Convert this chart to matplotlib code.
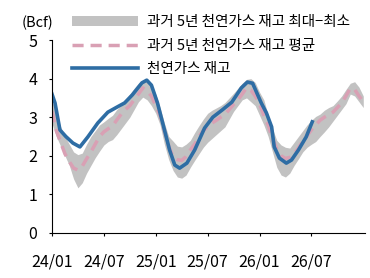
import numpy as np
import matplotlib
matplotlib.use('Agg')
from matplotlib import pyplot as plt

plt.rcParams['font.family'] = ['Noto Sans CJK KR', 'DejaVu Sans']

# months since 2024/01, half-month steps
bandMonths = np.arange(0, 36.01, 0.5)
bandLow = [2.85, 2.5, 2.25, 2.0, 1.75, 1.4, 1.17, 1.3, 1.55, 1.75, 1.95, 2.12, 2.28, 2.37,
           2.42, 2.55, 2.7, 2.85, 3.0, 3.2, 3.4, 3.52, 3.45, 3.3, 3.1, 2.8,
           2.3, 1.9, 1.62, 1.45, 1.42, 1.5, 1.7, 1.88, 2.05, 2.22, 2.35, 2.45,
           2.55, 2.65, 2.75, 2.95, 3.15, 3.3, 3.45, 3.5, 3.4, 3.3, 3.05,
           2.8, 2.5, 2.1, 1.7, 1.5, 1.45, 1.55, 1.75, 1.92, 2.1, 2.22, 2.3,
           2.37, 2.5, 2.62, 2.75, 2.9, 3.05, 3.2, 3.35, 3.6, 3.55, 3.4, 3.25]
bandHigh = [3.45, 3.1, 2.75, 2.5, 2.3, 2.1, 2.03, 2.07, 2.3, 2.5, 2.65, 2.8, 2.88, 2.97,
            3.05, 3.2, 3.3, 3.45, 3.6, 3.75, 3.88, 3.96, 3.93, 3.83, 3.6, 3.25,
            2.85, 2.5, 2.38, 2.25, 2.23, 2.3, 2.4, 2.6, 2.78, 2.95, 3.1, 3.18,
            3.24, 3.3, 3.38, 3.5, 3.62, 3.75, 3.88, 3.98, 4.0, 3.9, 3.65,
            3.45, 3.05, 2.7, 2.4, 2.28, 2.22, 2.2, 2.35, 2.5, 2.65, 2.8, 2.92,
            3.02, 3.08, 3.18, 3.25, 3.3, 3.42, 3.55, 3.72, 3.88, 3.92, 3.78, 3.55]
avg5y = [3.15, 2.65, 2.35, 2.05, 1.85, 1.68, 1.63, 1.73, 1.92, 2.1, 2.3, 2.5, 2.62, 2.7,
         2.77, 2.93, 3.08, 3.2, 3.3, 3.45, 3.6, 3.76, 3.68, 3.55, 3.3, 3.05,
         2.65, 2.25, 1.97, 1.9, 1.88, 1.98, 2.15, 2.3, 2.5, 2.65, 2.75, 2.85,
         2.92, 3.0, 3.07, 3.2, 3.33, 3.45, 3.6, 3.76, 3.7, 3.55, 3.35,
         3.05, 2.8, 2.45, 2.17, 2.0, 1.93, 1.96, 2.05, 2.2, 2.38, 2.52, 2.67,
         2.8, 2.92, 3.0, 3.06, 3.13, 3.25, 3.37, 3.55, 3.75, 3.72, 3.55, 3.4]

stockMonths = [0, 0.35, 0.92, 1.6, 2.42, 3.23, 4.15, 5.3, 6.46, 7.5, 8.4, 9.3, 10.4, 10.96,
               11.5, 12.2, 12.8, 13.6, 14.2, 14.76, 15.6, 16.5, 17.65, 18.6, 19.7, 20.8,
               21.9, 22.6, 23.2, 24.2, 24.8, 25.4, 25.7, 26.3, 27.1, 27.7, 28.5, 29.4, 30.1]
stock = [3.6, 3.37, 2.67, 2.5, 2.33, 2.23, 2.49, 2.85, 3.13, 3.26, 3.37, 3.58, 3.89, 3.96,
         3.83, 3.37, 2.85, 2.15, 1.76, 1.68, 1.81, 2.15, 2.72, 3.0, 3.19, 3.39,
         3.76, 3.91, 3.88, 3.37, 3.11, 2.75, 2.23, 1.94, 1.81, 1.89, 2.15, 2.49, 2.88]

tickMonths = [0, 6, 12, 18, 24, 30]
tickLabels = ['24/01', '24/07', '25/01', '25/07', '26/01', '26/07']

fig = plt.figure(figsize=(3.7, 2.78), dpi=100)
ax = fig.add_axes([0.1405, 0.162, 0.846, 0.694])

ax.fill_between(bandMonths, bandLow, bandHigh, color='#c2c2c2', lw=0,
                label='과거 5년 천연가스 재고 최대−최소')
ax.plot(bandMonths, avg5y, color='#d9a0b4', lw=2.5, dashes=(3.2, 2),
        label='과거 5년 천연가스 재고 평균')
ax.plot(stockMonths, stock, color='#2e6da4', lw=2.6, label='천연가스 재고')

ax.set_xlim(0, 36.2)
ax.set_ylim(0, 5)
ax.set_xticks(tickMonths)
ax.set_xticklabels(tickLabels)
ax.set_yticks(range(6))
ax.tick_params(labelsize=11.5, length=2.5, width=0.8, colors='black')
ax.tick_params(axis='y', pad=8)
ax.tick_params(axis='x', pad=12)
for s in ['top', 'right']:
    ax.spines[s].set_visible(False)
for s in ['left', 'bottom']:
    ax.spines[s].set_linewidth(0.8)

fig.text(0.058, 0.918, '(Bcf)', fontsize=10.5, va='center')

h, l = ax.get_legend_handles_labels()
ax.legend(h, l, loc='upper left', bbox_to_anchor=(0.195, 0.945), bbox_transform=fig.transFigure,
          frameon=False, fontsize=10.5, handlelength=4.5, handleheight=0.7,
          labelspacing=0.64, handletextpad=0.6, borderaxespad=0, borderpad=0)

fig.savefig('out.png', dpi=100)
